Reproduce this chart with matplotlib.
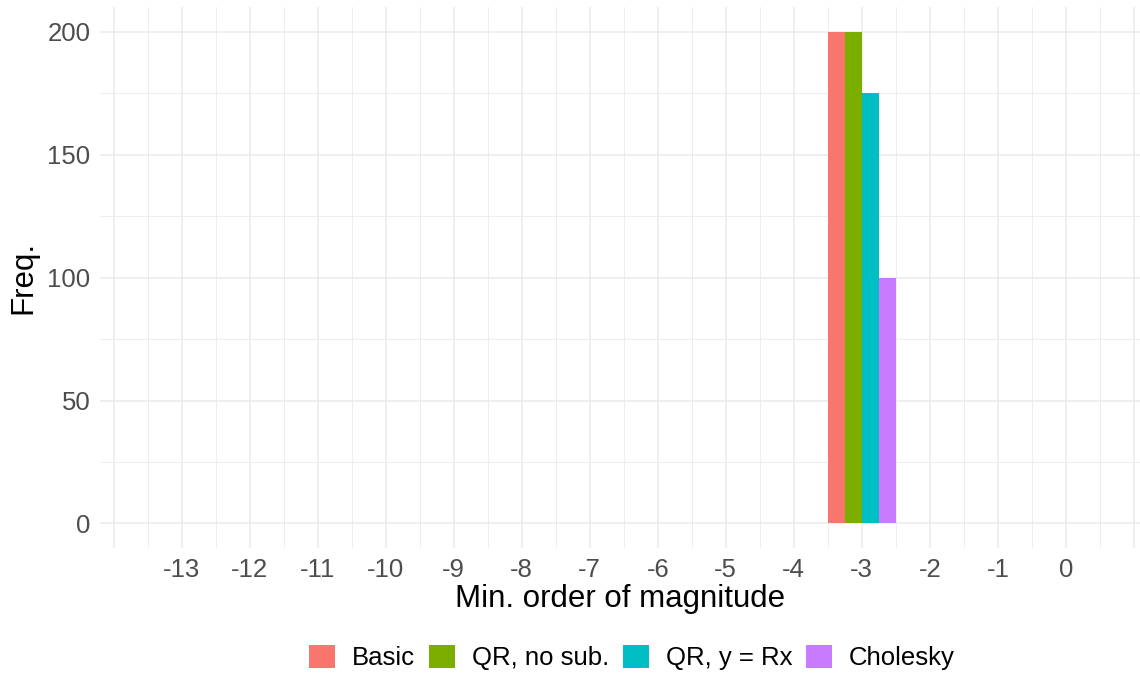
import numpy as np
import matplotlib
matplotlib.use("Agg")
import matplotlib.pyplot as plt
from matplotlib.patches import Patch

plt.rcParams['font.family'] = ['Liberation Sans', 'DejaVu Sans']

magnitudes = list(range(-13, 1))
series_names = ["Basic", "QR, no sub.", "QR, y = Rx", "Cholesky"]
basic      = [0, 0, 0, 0, 0, 0, 0, 0, 0, 0, 200, 0, 0, 0]
qr_nosub   = [0, 0, 0, 0, 0, 0, 0, 0, 0, 0, 200, 0, 0, 0]
qr_rx      = [0, 0, 0, 0, 0, 0, 0, 0, 0, 0, 175, 0, 0, 0]
cholesky   = [0, 0, 0, 0, 0, 0, 0, 0, 0, 0, 100, 0, 0, 0]
colors = ["#F8766D", "#7CAE00", "#00BFC4", "#C77CFF"]

W, H = 1140, 677
fig = plt.figure(figsize=(W / 100, H / 100), dpi=100)
ax = fig.add_axes([100 / W, 1 - 548 / H, 1.0 - 100 / W, (548 - 7.4) / H])

x = np.array(magnitudes, dtype=float)
width = 0.25
all_series = [basic, qr_nosub, qr_rx, cholesky]
for i, (vals, c, name) in enumerate(zip(all_series, colors, series_names)):
    offs = -0.375 + i * width
    v = np.array(vals, dtype=float)
    mask = v > 0
    ax.bar(x[mask] + offs, v[mask], width=width, color=c, edgecolor='none', zorder=3, label=name)

ax.set_xlim(-14.2, 1.09)
ax.set_ylim(-10, 210)

# grid
grid_c = "#EBEBEB"
for xv in np.arange(-14, 1.01, 1.0):
    ax.axvline(xv, color=grid_c, lw=1.1, zorder=1)
for xv in np.arange(-13.5, 1.01, 1.0):
    ax.axvline(xv, color=grid_c, lw=0.6, zorder=1)
for yv in [0, 50, 100, 150, 200]:
    ax.axhline(yv, color=grid_c, lw=1.1, zorder=1)
for yv in [25, 75, 125, 175]:
    ax.axhline(yv, color=grid_c, lw=0.6, zorder=1)

ax.set_xticks(magnitudes)
ax.set_xticklabels([str(m) for m in magnitudes])
ax.set_yticks([0, 50, 100, 150, 200])
ax.tick_params(axis='both', length=0, labelsize=18.5, colors="#4D4D4D")
ax.tick_params(axis='x', pad=7)
ax.tick_params(axis='y', pad=7)
for s in ax.spines.values():
    s.set_visible(False)

ax.set_xlabel("Min. order of magnitude", fontsize=22.5, color="black", labelpad=2)
ax.set_ylabel("Freq.", fontsize=22.5, color="black", labelpad=6)

handles = [Patch(facecolor=c, edgecolor='none') for c in colors]
fig.legend(handles, series_names, loc='center', bbox_to_anchor=(632 / W, 1 - 657.5 / H),
           ncol=4, frameon=False, fontsize=18.5, handlelength=1.0, handleheight=1.0,
           handletextpad=0.66, columnspacing=0.55, borderaxespad=0)

fig.savefig("out.png", dpi=100)
